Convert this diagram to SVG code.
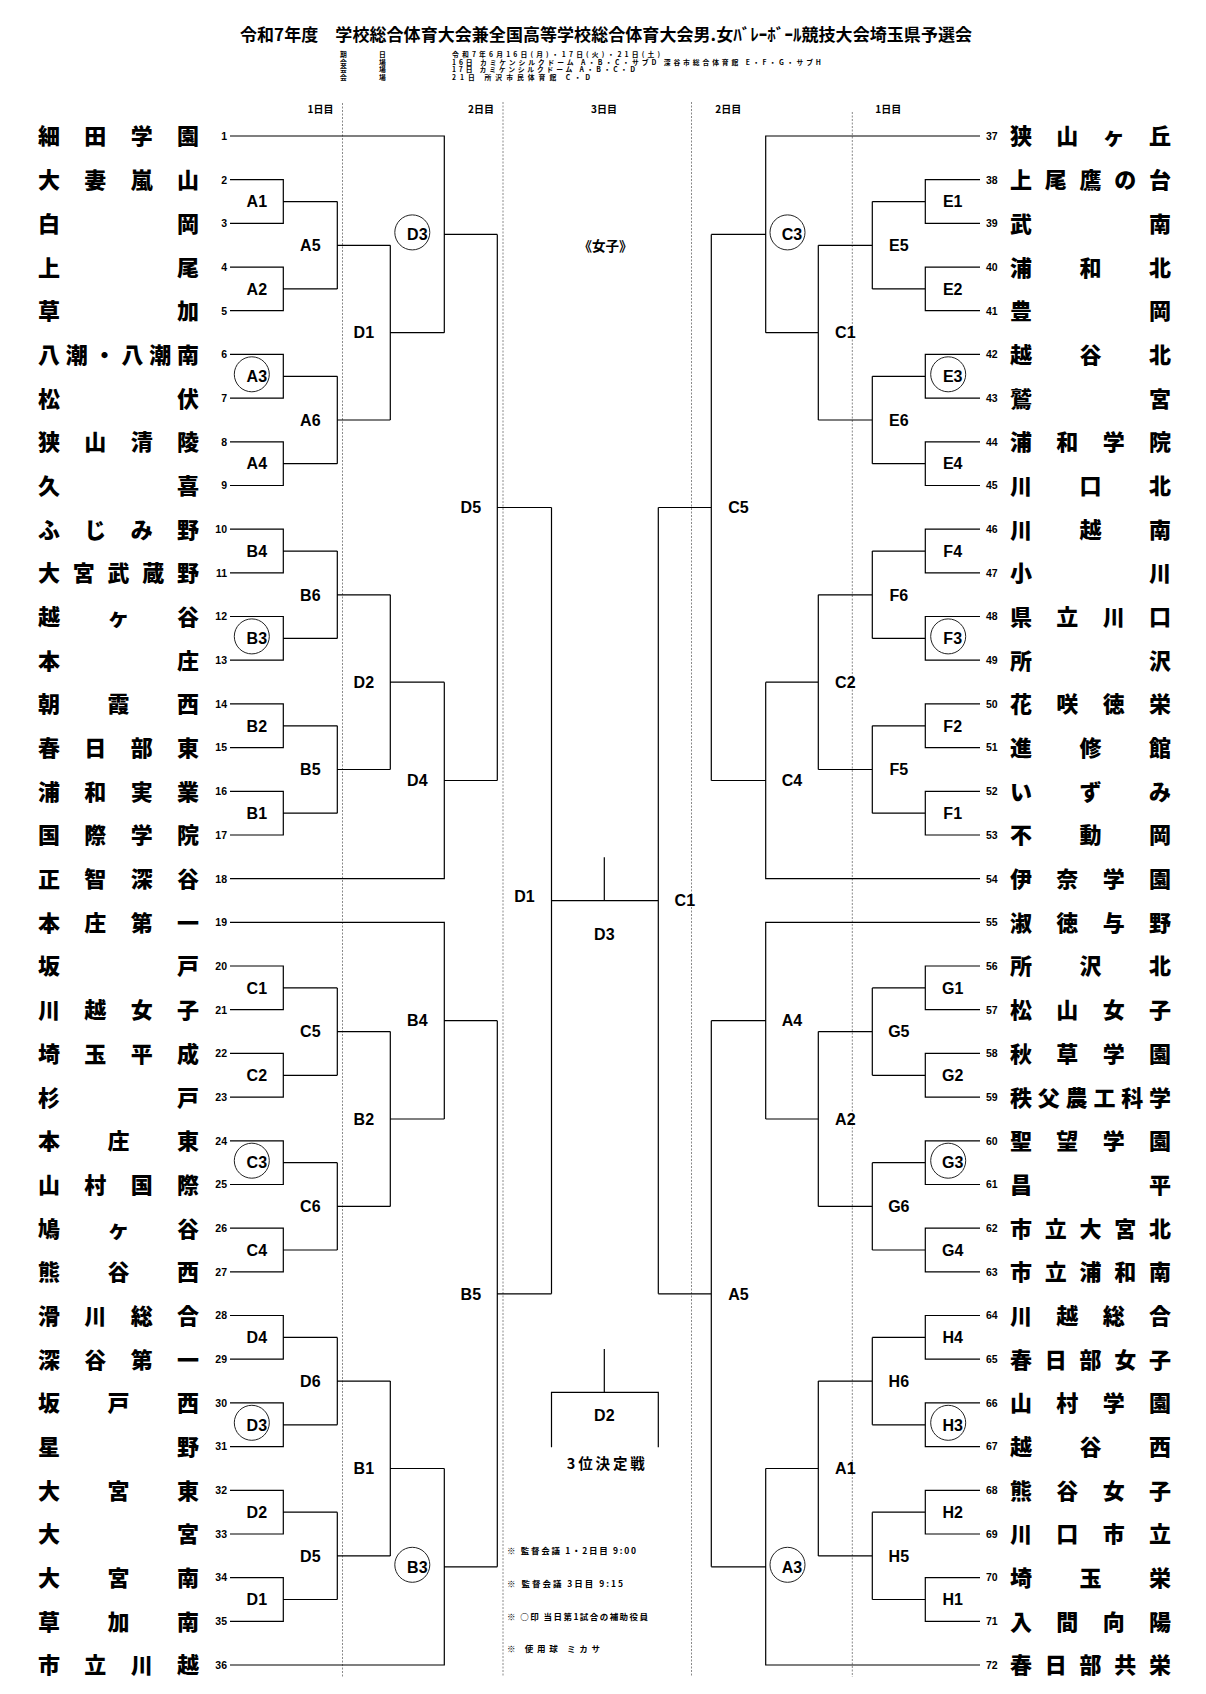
<svg xmlns="http://www.w3.org/2000/svg" width="1206" height="1694" viewBox="0 0 1206 1694">
<style>
.bg{fill:#fff}
.ln{fill:none;stroke:#000;stroke-width:1.2}
.dash{fill:none;stroke:#8a8a8a;stroke-width:1;stroke-dasharray:2 1.5}
.cir{fill:none;stroke:#222;stroke-width:1}
.nm{font-family:"Noto Sans CJK JP","Noto Sans CJK SC",sans-serif;font-size:22px;font-weight:900}
.no{font-family:"Liberation Sans",Arial,sans-serif;font-size:10.5px;font-weight:700}
.nl{text-anchor:end}
.lb{font-family:"Liberation Sans",Arial,sans-serif;font-size:16px;font-weight:700;text-anchor:middle}
.hd{font-family:"Noto Sans CJK JP",sans-serif;font-size:10px;font-weight:700;text-anchor:middle}
.ttl{font-family:"Noto Sans CJK JP",sans-serif;font-size:17px;font-weight:700}
.inf{font-family:"Noto Sans CJK JP",sans-serif;font-size:6.8px;font-weight:700}
.key{font-family:"Noto Sans CJK JP",sans-serif;font-size:6.8px;font-weight:700}
.nt{font-family:"Noto Sans CJK JP",sans-serif;font-size:8.5px;font-weight:700}
.cj{font-family:"Noto Sans CJK JP",sans-serif;font-weight:700;text-anchor:middle}
</style>
<rect class="bg" x="0" y="0" width="1206" height="1694"/>

<g id="header">
<text class="ttl" x="240" y="40.5" textLength="732" lengthAdjust="spacing">令和7年度　学校総合体育大会兼全国高等学校総合体育大会男.女ﾊﾞﾚｰﾎﾞｰﾙ競技大会埼玉県予選会</text>
<text class="key" x="340 379" y="57">期日</text>
<text class="key" x="340 379" y="64.6">会場</text>
<text class="key" x="340 379" y="72.2">会場</text>
<text class="key" x="340 379" y="79.8">会場</text>
<text class="inf" x="452" y="57" textLength="208" lengthAdjust="spacing">令和7年6月16日(月)・17日(火)・21日(土)</text>
<text class="inf" x="452" y="64.6" textLength="369" lengthAdjust="spacing">16日 カミケンシルクドーム A・B・C・サブD 深谷市総合体育館 E・F・G・サブH</text>
<text class="inf" x="452" y="72.2" textLength="183" lengthAdjust="spacing">17日 カミケンシルクドーム A・B・C・D</text>
<text class="inf" x="452" y="79.8" textLength="138" lengthAdjust="spacing">21日 所沢市民体育館 C・D</text>
<text class="hd" x="320.5" y="113.3">1日目</text>
<text class="hd" x="481" y="113.3">2日目</text>
<text class="hd" x="604" y="113.3">3日目</text>
<text class="hd" x="728.3" y="113.3">2日目</text>
<text class="hd" x="888.3" y="113.3">1日目</text>
<text class="cj" x="605.5" y="250.6" style="font-size:13.5px">《女子》</text>
</g>

<g id="day-dividers">
<path class="dash" d="M342.5 103V1677M503 102V1677M691.5 102V1677M852.3 112V1677"/>
</g>

<g id="connectors">
<path class="ln" d="M230 179.7H283.3V223.4H230M283.3 201.6H337.3"/>
<path class="ln" d="M230 267.1H283.3V310.7H230M283.3 288.9H337.3"/>
<path class="ln" d="M230 354.4H283.3V398.1H230M283.3 376.3H337.3"/>
<path class="ln" d="M230 441.8H283.3V485.5H230M283.3 463.7H337.3"/>
<path class="ln" d="M230 529.2H283.3V572.9H230M283.3 551.1H337.3"/>
<path class="ln" d="M230 616.5H283.3V660.2H230M283.3 638.4H337.3"/>
<path class="ln" d="M230 703.9H283.3V747.6H230M283.3 725.8H337.3"/>
<path class="ln" d="M230 791.3H283.3V835H230M283.3 813.2H337.3"/>
<path class="ln" d="M230 966H283.3V1009.7H230M283.3 987.9H337.3"/>
<path class="ln" d="M230 1053.4H283.3V1097.1H230M283.3 1075.3H337.3"/>
<path class="ln" d="M230 1140.8H283.3V1184.5H230M283.3 1162.7H337.3"/>
<path class="ln" d="M230 1228.2H283.3V1271.8H230M283.3 1250H337.3"/>
<path class="ln" d="M230 1315.5H283.3V1359.2H230M283.3 1337.4H337.3"/>
<path class="ln" d="M230 1402.9H283.3V1446.6H230M283.3 1424.8H337.3"/>
<path class="ln" d="M230 1490.3H283.3V1534H230M283.3 1512.2H337.3"/>
<path class="ln" d="M230 1577.6H283.3V1621.3H230M283.3 1599.5H337.3"/>
<path class="ln" d="M337.3 201.6V288.9M337.3 245.3H390.3"/>
<path class="ln" d="M337.3 376.3V463.7M337.3 420H390.3"/>
<path class="ln" d="M337.3 551.1V638.4M337.3 594.8H390.3"/>
<path class="ln" d="M337.3 725.8V813.2M337.3 769.5H390.3"/>
<path class="ln" d="M337.3 987.9V1075.3M337.3 1031.6H390.3"/>
<path class="ln" d="M337.3 1162.7V1250M337.3 1206.4H390.3"/>
<path class="ln" d="M337.3 1337.4V1424.8M337.3 1381.1H390.3"/>
<path class="ln" d="M337.3 1512.2V1599.5M337.3 1555.9H390.3"/>
<path class="ln" d="M390.3 245.3V420M390.3 332.7H444.3"/>
<path class="ln" d="M390.3 594.8V769.5M390.3 682.2H444.3"/>
<path class="ln" d="M390.3 1031.6V1206.4M390.3 1119H444.3"/>
<path class="ln" d="M390.3 1381.1V1555.9M390.3 1468.5H444.3"/>
<path class="ln" d="M230 136H444.3V332.7M444.3 234.4H497.3"/>
<path class="ln" d="M444.3 682.2V878.7H230M444.3 780.5H497.3"/>
<path class="ln" d="M230 922.3H444.3V1119M444.3 1020.7H497.3"/>
<path class="ln" d="M444.3 1468.5V1665H230M444.3 1566.8H497.3"/>
<path class="ln" d="M497.3 234.4V780.5M497.3 507.5H551.5"/>
<path class="ln" d="M497.3 1020.7V1566.8M497.3 1293.8H551.5"/>

<path class="ln" d="M980 179.7H925.3V223.4H980M925.3 201.6H872.3"/>
<path class="ln" d="M980 267.1H925.3V310.7H980M925.3 288.9H872.3"/>
<path class="ln" d="M980 354.4H925.3V398.1H980M925.3 376.3H872.3"/>
<path class="ln" d="M980 441.8H925.3V485.5H980M925.3 463.7H872.3"/>
<path class="ln" d="M980 529.2H925.3V572.9H980M925.3 551.1H872.3"/>
<path class="ln" d="M980 616.5H925.3V660.2H980M925.3 638.4H872.3"/>
<path class="ln" d="M980 703.9H925.3V747.6H980M925.3 725.8H872.3"/>
<path class="ln" d="M980 791.3H925.3V835H980M925.3 813.2H872.3"/>
<path class="ln" d="M980 966H925.3V1009.7H980M925.3 987.9H872.3"/>
<path class="ln" d="M980 1053.4H925.3V1097.1H980M925.3 1075.3H872.3"/>
<path class="ln" d="M980 1140.8H925.3V1184.5H980M925.3 1162.7H872.3"/>
<path class="ln" d="M980 1228.2H925.3V1271.8H980M925.3 1250H872.3"/>
<path class="ln" d="M980 1315.5H925.3V1359.2H980M925.3 1337.4H872.3"/>
<path class="ln" d="M980 1402.9H925.3V1446.6H980M925.3 1424.8H872.3"/>
<path class="ln" d="M980 1490.3H925.3V1534H980M925.3 1512.2H872.3"/>
<path class="ln" d="M980 1577.6H925.3V1621.3H980M925.3 1599.5H872.3"/>
<path class="ln" d="M872.3 201.6V288.9M872.3 245.3H818.3"/>
<path class="ln" d="M872.3 376.3V463.7M872.3 420H818.3"/>
<path class="ln" d="M872.3 551.1V638.4M872.3 594.8H818.3"/>
<path class="ln" d="M872.3 725.8V813.2M872.3 769.5H818.3"/>
<path class="ln" d="M872.3 987.9V1075.3M872.3 1031.6H818.3"/>
<path class="ln" d="M872.3 1162.7V1250M872.3 1206.4H818.3"/>
<path class="ln" d="M872.3 1337.4V1424.8M872.3 1381.1H818.3"/>
<path class="ln" d="M872.3 1512.2V1599.5M872.3 1555.9H818.3"/>
<path class="ln" d="M818.3 245.3V420M818.3 332.7H765.7"/>
<path class="ln" d="M818.3 594.8V769.5M818.3 682.2H765.7"/>
<path class="ln" d="M818.3 1031.6V1206.4M818.3 1119H765.7"/>
<path class="ln" d="M818.3 1381.1V1555.9M818.3 1468.5H765.7"/>
<path class="ln" d="M980 136H765.7V332.7M765.7 234.4H711.3"/>
<path class="ln" d="M765.7 682.2V878.7H980M765.7 780.5H711.3"/>
<path class="ln" d="M980 922.3H765.7V1119M765.7 1020.7H711.3"/>
<path class="ln" d="M765.7 1468.5V1665H980M765.7 1566.8H711.3"/>
<path class="ln" d="M711.3 234.4V780.5M711.3 507.5H658.3"/>
<path class="ln" d="M711.3 1020.7V1566.8M711.3 1293.8H658.3"/>

<path class="ln" d="M551.5 507.5V1293.8M658.3 507.5V1293.8M551.5 900.7H658.3M604.3 857.3V900.7"/>
<path class="ln" d="M551.5 1447.3V1392.3H658.3V1447.3M604.3 1349V1392.3"/>
</g>

<g id="teams-left">
<g id="team1" transform="translate(0,136)"><text class="no nl" x="227" y="3.8">1</text><text class="nm" x="38 84.3 130.7 177" y="8.4">細田学園</text></g>
<g id="team2" transform="translate(0,179.7)"><text class="no nl" x="227" y="3.8">2</text><text class="nm" x="38 84.3 130.7 177" y="8.4">大妻嵐山</text></g>
<g id="team3" transform="translate(0,223.4)"><text class="no nl" x="227" y="3.8">3</text><text class="nm" x="38 177" y="8.4">白岡</text></g>
<g id="team4" transform="translate(0,267.1)"><text class="no nl" x="227" y="3.8">4</text><text class="nm" x="38 177" y="8.4">上尾</text></g>
<g id="team5" transform="translate(0,310.7)"><text class="no nl" x="227" y="3.8">5</text><text class="nm" x="38 177" y="8.4">草加</text></g>
<g id="team6" transform="translate(0,354.4)"><text class="no nl" x="227" y="3.8">6</text><text class="nm" x="38 65.8 93.6 121.4 149.2 177" y="8.4">八潮・八潮南</text></g>
<g id="team7" transform="translate(0,398.1)"><text class="no nl" x="227" y="3.8">7</text><text class="nm" x="38 177" y="8.4">松伏</text></g>
<g id="team8" transform="translate(0,441.8)"><text class="no nl" x="227" y="3.8">8</text><text class="nm" x="38 84.3 130.7 177" y="8.4">狭山清陵</text></g>
<g id="team9" transform="translate(0,485.5)"><text class="no nl" x="227" y="3.8">9</text><text class="nm" x="38 177" y="8.4">久喜</text></g>
<g id="team10" transform="translate(0,529.2)"><text class="no nl" x="227" y="3.8">10</text><text class="nm" x="38 84.3 130.7 177" y="8.4">ふじみ野</text></g>
<g id="team11" transform="translate(0,572.9)"><text class="no nl" x="227" y="3.8">11</text><text class="nm" x="38 72.8 107.5 142.3 177" y="8.4">大宮武蔵野</text></g>
<g id="team12" transform="translate(0,616.5)"><text class="no nl" x="227" y="3.8">12</text><text class="nm" x="38 107.5 177" y="8.4">越ヶ谷</text></g>
<g id="team13" transform="translate(0,660.2)"><text class="no nl" x="227" y="3.8">13</text><text class="nm" x="38 177" y="8.4">本庄</text></g>
<g id="team14" transform="translate(0,703.9)"><text class="no nl" x="227" y="3.8">14</text><text class="nm" x="38 107.5 177" y="8.4">朝霞西</text></g>
<g id="team15" transform="translate(0,747.6)"><text class="no nl" x="227" y="3.8">15</text><text class="nm" x="38 84.3 130.7 177" y="8.4">春日部東</text></g>
<g id="team16" transform="translate(0,791.3)"><text class="no nl" x="227" y="3.8">16</text><text class="nm" x="38 84.3 130.7 177" y="8.4">浦和実業</text></g>
<g id="team17" transform="translate(0,835)"><text class="no nl" x="227" y="3.8">17</text><text class="nm" x="38 84.3 130.7 177" y="8.4">国際学院</text></g>
<g id="team18" transform="translate(0,878.7)"><text class="no nl" x="227" y="3.8">18</text><text class="nm" x="38 84.3 130.7 177" y="8.4">正智深谷</text></g>
<g id="team19" transform="translate(0,922.3)"><text class="no nl" x="227" y="3.8">19</text><text class="nm" x="38 84.3 130.7 177" y="8.4">本庄第一</text></g>
<g id="team20" transform="translate(0,966)"><text class="no nl" x="227" y="3.8">20</text><text class="nm" x="38 177" y="8.4">坂戸</text></g>
<g id="team21" transform="translate(0,1009.7)"><text class="no nl" x="227" y="3.8">21</text><text class="nm" x="38 84.3 130.7 177" y="8.4">川越女子</text></g>
<g id="team22" transform="translate(0,1053.4)"><text class="no nl" x="227" y="3.8">22</text><text class="nm" x="38 84.3 130.7 177" y="8.4">埼玉平成</text></g>
<g id="team23" transform="translate(0,1097.1)"><text class="no nl" x="227" y="3.8">23</text><text class="nm" x="38 177" y="8.4">杉戸</text></g>
<g id="team24" transform="translate(0,1140.8)"><text class="no nl" x="227" y="3.8">24</text><text class="nm" x="38 107.5 177" y="8.4">本庄東</text></g>
<g id="team25" transform="translate(0,1184.5)"><text class="no nl" x="227" y="3.8">25</text><text class="nm" x="38 84.3 130.7 177" y="8.4">山村国際</text></g>
<g id="team26" transform="translate(0,1228.2)"><text class="no nl" x="227" y="3.8">26</text><text class="nm" x="38 107.5 177" y="8.4">鳩ヶ谷</text></g>
<g id="team27" transform="translate(0,1271.8)"><text class="no nl" x="227" y="3.8">27</text><text class="nm" x="38 107.5 177" y="8.4">熊谷西</text></g>
<g id="team28" transform="translate(0,1315.5)"><text class="no nl" x="227" y="3.8">28</text><text class="nm" x="38 84.3 130.7 177" y="8.4">滑川総合</text></g>
<g id="team29" transform="translate(0,1359.2)"><text class="no nl" x="227" y="3.8">29</text><text class="nm" x="38 84.3 130.7 177" y="8.4">深谷第一</text></g>
<g id="team30" transform="translate(0,1402.9)"><text class="no nl" x="227" y="3.8">30</text><text class="nm" x="38 107.5 177" y="8.4">坂戸西</text></g>
<g id="team31" transform="translate(0,1446.6)"><text class="no nl" x="227" y="3.8">31</text><text class="nm" x="38 177" y="8.4">星野</text></g>
<g id="team32" transform="translate(0,1490.3)"><text class="no nl" x="227" y="3.8">32</text><text class="nm" x="38 107.5 177" y="8.4">大宮東</text></g>
<g id="team33" transform="translate(0,1534)"><text class="no nl" x="227" y="3.8">33</text><text class="nm" x="38 177" y="8.4">大宮</text></g>
<g id="team34" transform="translate(0,1577.6)"><text class="no nl" x="227" y="3.8">34</text><text class="nm" x="38 107.5 177" y="8.4">大宮南</text></g>
<g id="team35" transform="translate(0,1621.3)"><text class="no nl" x="227" y="3.8">35</text><text class="nm" x="38 107.5 177" y="8.4">草加南</text></g>
<g id="team36" transform="translate(0,1665)"><text class="no nl" x="227" y="3.8">36</text><text class="nm" x="38 84.3 130.7 177" y="8.4">市立川越</text></g>
</g>

<g id="teams-right">
<g id="team37" transform="translate(0,136)"><text class="no" x="986" y="3.8">37</text><text class="nm" x="1010 1056.3 1102.7 1149" y="8.4">狭山ヶ丘</text></g>
<g id="team38" transform="translate(0,179.7)"><text class="no" x="986" y="3.8">38</text><text class="nm" x="1010 1044.8 1079.5 1114.3 1149" y="8.4">上尾鷹の台</text></g>
<g id="team39" transform="translate(0,223.4)"><text class="no" x="986" y="3.8">39</text><text class="nm" x="1010 1149" y="8.4">武南</text></g>
<g id="team40" transform="translate(0,267.1)"><text class="no" x="986" y="3.8">40</text><text class="nm" x="1010 1079.5 1149" y="8.4">浦和北</text></g>
<g id="team41" transform="translate(0,310.7)"><text class="no" x="986" y="3.8">41</text><text class="nm" x="1010 1149" y="8.4">豊岡</text></g>
<g id="team42" transform="translate(0,354.4)"><text class="no" x="986" y="3.8">42</text><text class="nm" x="1010 1079.5 1149" y="8.4">越谷北</text></g>
<g id="team43" transform="translate(0,398.1)"><text class="no" x="986" y="3.8">43</text><text class="nm" x="1010 1149" y="8.4">鷲宮</text></g>
<g id="team44" transform="translate(0,441.8)"><text class="no" x="986" y="3.8">44</text><text class="nm" x="1010 1056.3 1102.7 1149" y="8.4">浦和学院</text></g>
<g id="team45" transform="translate(0,485.5)"><text class="no" x="986" y="3.8">45</text><text class="nm" x="1010 1079.5 1149" y="8.4">川口北</text></g>
<g id="team46" transform="translate(0,529.2)"><text class="no" x="986" y="3.8">46</text><text class="nm" x="1010 1079.5 1149" y="8.4">川越南</text></g>
<g id="team47" transform="translate(0,572.9)"><text class="no" x="986" y="3.8">47</text><text class="nm" x="1010 1149" y="8.4">小川</text></g>
<g id="team48" transform="translate(0,616.5)"><text class="no" x="986" y="3.8">48</text><text class="nm" x="1010 1056.3 1102.7 1149" y="8.4">県立川口</text></g>
<g id="team49" transform="translate(0,660.2)"><text class="no" x="986" y="3.8">49</text><text class="nm" x="1010 1149" y="8.4">所沢</text></g>
<g id="team50" transform="translate(0,703.9)"><text class="no" x="986" y="3.8">50</text><text class="nm" x="1010 1056.3 1102.7 1149" y="8.4">花咲徳栄</text></g>
<g id="team51" transform="translate(0,747.6)"><text class="no" x="986" y="3.8">51</text><text class="nm" x="1010 1079.5 1149" y="8.4">進修館</text></g>
<g id="team52" transform="translate(0,791.3)"><text class="no" x="986" y="3.8">52</text><text class="nm" x="1010 1079.5 1149" y="8.4">いずみ</text></g>
<g id="team53" transform="translate(0,835)"><text class="no" x="986" y="3.8">53</text><text class="nm" x="1010 1079.5 1149" y="8.4">不動岡</text></g>
<g id="team54" transform="translate(0,878.7)"><text class="no" x="986" y="3.8">54</text><text class="nm" x="1010 1056.3 1102.7 1149" y="8.4">伊奈学園</text></g>
<g id="team55" transform="translate(0,922.3)"><text class="no" x="986" y="3.8">55</text><text class="nm" x="1010 1056.3 1102.7 1149" y="8.4">淑徳与野</text></g>
<g id="team56" transform="translate(0,966)"><text class="no" x="986" y="3.8">56</text><text class="nm" x="1010 1079.5 1149" y="8.4">所沢北</text></g>
<g id="team57" transform="translate(0,1009.7)"><text class="no" x="986" y="3.8">57</text><text class="nm" x="1010 1056.3 1102.7 1149" y="8.4">松山女子</text></g>
<g id="team58" transform="translate(0,1053.4)"><text class="no" x="986" y="3.8">58</text><text class="nm" x="1010 1056.3 1102.7 1149" y="8.4">秋草学園</text></g>
<g id="team59" transform="translate(0,1097.1)"><text class="no" x="986" y="3.8">59</text><text class="nm" x="1010 1037.8 1065.6 1093.4 1121.2 1149" y="8.4">秩父農工科学</text></g>
<g id="team60" transform="translate(0,1140.8)"><text class="no" x="986" y="3.8">60</text><text class="nm" x="1010 1056.3 1102.7 1149" y="8.4">聖望学園</text></g>
<g id="team61" transform="translate(0,1184.5)"><text class="no" x="986" y="3.8">61</text><text class="nm" x="1010 1149" y="8.4">昌平</text></g>
<g id="team62" transform="translate(0,1228.2)"><text class="no" x="986" y="3.8">62</text><text class="nm" x="1010 1044.8 1079.5 1114.3 1149" y="8.4">市立大宮北</text></g>
<g id="team63" transform="translate(0,1271.8)"><text class="no" x="986" y="3.8">63</text><text class="nm" x="1010 1044.8 1079.5 1114.3 1149" y="8.4">市立浦和南</text></g>
<g id="team64" transform="translate(0,1315.5)"><text class="no" x="986" y="3.8">64</text><text class="nm" x="1010 1056.3 1102.7 1149" y="8.4">川越総合</text></g>
<g id="team65" transform="translate(0,1359.2)"><text class="no" x="986" y="3.8">65</text><text class="nm" x="1010 1044.8 1079.5 1114.3 1149" y="8.4">春日部女子</text></g>
<g id="team66" transform="translate(0,1402.9)"><text class="no" x="986" y="3.8">66</text><text class="nm" x="1010 1056.3 1102.7 1149" y="8.4">山村学園</text></g>
<g id="team67" transform="translate(0,1446.6)"><text class="no" x="986" y="3.8">67</text><text class="nm" x="1010 1079.5 1149" y="8.4">越谷西</text></g>
<g id="team68" transform="translate(0,1490.3)"><text class="no" x="986" y="3.8">68</text><text class="nm" x="1010 1056.3 1102.7 1149" y="8.4">熊谷女子</text></g>
<g id="team69" transform="translate(0,1534)"><text class="no" x="986" y="3.8">69</text><text class="nm" x="1010 1056.3 1102.7 1149" y="8.4">川口市立</text></g>
<g id="team70" transform="translate(0,1577.6)"><text class="no" x="986" y="3.8">70</text><text class="nm" x="1010 1079.5 1149" y="8.4">埼玉栄</text></g>
<g id="team71" transform="translate(0,1621.3)"><text class="no" x="986" y="3.8">71</text><text class="nm" x="1010 1056.3 1102.7 1149" y="8.4">入間向陽</text></g>
<g id="team72" transform="translate(0,1665)"><text class="no" x="986" y="3.8">72</text><text class="nm" x="1010 1044.8 1079.5 1114.3 1149" y="8.4">春日部共栄</text></g>
</g>

<g id="matches-left">
<g id="mL-A1" transform="translate(256.8,201.6)"><text class="lb" y="5.7">A1</text></g>
<g id="mL-A2" transform="translate(256.8,288.9)"><text class="lb" y="5.7">A2</text></g>
<g id="mL-A3" transform="translate(256.8,376.3)"><circle class="cir" cx="-5" cy="-2" r="17.5"/><text class="lb" y="5.7">A3</text></g>
<g id="mL-A4" transform="translate(256.8,463.7)"><text class="lb" y="5.7">A4</text></g>
<g id="mL-B4a" transform="translate(256.8,551.1)"><text class="lb" y="5.7">B4</text></g>
<g id="mL-B3a" transform="translate(256.8,638.4)"><circle class="cir" cx="-5" cy="-2" r="17.5"/><text class="lb" y="5.7">B3</text></g>
<g id="mL-B2a" transform="translate(256.8,725.8)"><text class="lb" y="5.7">B2</text></g>
<g id="mL-B1a" transform="translate(256.8,813.2)"><text class="lb" y="5.7">B1</text></g>
<g id="mL-C1" transform="translate(256.8,987.9)"><text class="lb" y="5.7">C1</text></g>
<g id="mL-C2" transform="translate(256.8,1075.3)"><text class="lb" y="5.7">C2</text></g>
<g id="mL-C3" transform="translate(256.8,1162.7)"><circle class="cir" cx="-5" cy="-2" r="17.5"/><text class="lb" y="5.7">C3</text></g>
<g id="mL-C4" transform="translate(256.8,1250)"><text class="lb" y="5.7">C4</text></g>
<g id="mL-D4a" transform="translate(256.8,1337.4)"><text class="lb" y="5.7">D4</text></g>
<g id="mL-D3a" transform="translate(256.8,1424.8)"><circle class="cir" cx="-5" cy="-2" r="17.5"/><text class="lb" y="5.7">D3</text></g>
<g id="mL-D2a" transform="translate(256.8,1512.2)"><text class="lb" y="5.7">D2</text></g>
<g id="mL-D1a" transform="translate(256.8,1599.5)"><text class="lb" y="5.7">D1</text></g>
<g id="mL-A5" transform="translate(310.3,245.3)"><text class="lb" y="5.7">A5</text></g>
<g id="mL-A6" transform="translate(310.3,420)"><text class="lb" y="5.7">A6</text></g>
<g id="mL-B6" transform="translate(310.3,594.8)"><text class="lb" y="5.7">B6</text></g>
<g id="mL-B5a" transform="translate(310.3,769.5)"><text class="lb" y="5.7">B5</text></g>
<g id="mL-C5" transform="translate(310.3,1031.6)"><text class="lb" y="5.7">C5</text></g>
<g id="mL-C6" transform="translate(310.3,1206.4)"><text class="lb" y="5.7">C6</text></g>
<g id="mL-D6" transform="translate(310.3,1381.1)"><text class="lb" y="5.7">D6</text></g>
<g id="mL-D5a" transform="translate(310.3,1555.9)"><text class="lb" y="5.7">D5</text></g>
<g id="mL-D1b" transform="translate(363.8,332.7)"><text class="lb" y="5.7">D1</text></g>
<g id="mL-D2b" transform="translate(363.8,682.2)"><text class="lb" y="5.7">D2</text></g>
<g id="mL-B2b" transform="translate(363.8,1119)"><text class="lb" y="5.7">B2</text></g>
<g id="mL-B1b" transform="translate(363.8,1468.5)"><text class="lb" y="5.7">B1</text></g>
<g id="mL-D3b" transform="translate(417.3,234.4)"><circle class="cir" cx="-5" cy="-2" r="17.5"/><text class="lb" y="5.7">D3</text></g>
<g id="mL-D4b" transform="translate(417.3,780.5)"><text class="lb" y="5.7">D4</text></g>
<g id="mL-B4b" transform="translate(417.3,1020.7)"><text class="lb" y="5.7">B4</text></g>
<g id="mL-B3b" transform="translate(417.3,1566.8)"><circle class="cir" cx="-5" cy="-2" r="17.5"/><text class="lb" y="5.7">B3</text></g>
<g id="mL-D5b" transform="translate(470.8,507.5)"><text class="lb" y="5.7">D5</text></g>
<g id="mL-B5b" transform="translate(470.8,1293.8)"><text class="lb" y="5.7">B5</text></g>
</g>

<g id="matches-right">
<g id="mR-E1" transform="translate(952.7,201.6)"><text class="lb" y="5.7">E1</text></g>
<g id="mR-E2" transform="translate(952.7,288.9)"><text class="lb" y="5.7">E2</text></g>
<g id="mR-E3" transform="translate(952.7,376.3)"><circle class="cir" cx="-4.5" cy="-2" r="17.5"/><text class="lb" y="5.7">E3</text></g>
<g id="mR-E4" transform="translate(952.7,463.7)"><text class="lb" y="5.7">E4</text></g>
<g id="mR-F4" transform="translate(952.7,551.1)"><text class="lb" y="5.7">F4</text></g>
<g id="mR-F3" transform="translate(952.7,638.4)"><circle class="cir" cx="-4.5" cy="-2" r="17.5"/><text class="lb" y="5.7">F3</text></g>
<g id="mR-F2" transform="translate(952.7,725.8)"><text class="lb" y="5.7">F2</text></g>
<g id="mR-F1" transform="translate(952.7,813.2)"><text class="lb" y="5.7">F1</text></g>
<g id="mR-G1" transform="translate(952.7,987.9)"><text class="lb" y="5.7">G1</text></g>
<g id="mR-G2" transform="translate(952.7,1075.3)"><text class="lb" y="5.7">G2</text></g>
<g id="mR-G3" transform="translate(952.7,1162.7)"><circle class="cir" cx="-4.5" cy="-2" r="17.5"/><text class="lb" y="5.7">G3</text></g>
<g id="mR-G4" transform="translate(952.7,1250)"><text class="lb" y="5.7">G4</text></g>
<g id="mR-H4" transform="translate(952.7,1337.4)"><text class="lb" y="5.7">H4</text></g>
<g id="mR-H3" transform="translate(952.7,1424.8)"><circle class="cir" cx="-4.5" cy="-2" r="17.5"/><text class="lb" y="5.7">H3</text></g>
<g id="mR-H2" transform="translate(952.7,1512.2)"><text class="lb" y="5.7">H2</text></g>
<g id="mR-H1" transform="translate(952.7,1599.5)"><text class="lb" y="5.7">H1</text></g>
<g id="mR-E5" transform="translate(898.8,245.3)"><text class="lb" y="5.7">E5</text></g>
<g id="mR-E6" transform="translate(898.8,420)"><text class="lb" y="5.7">E6</text></g>
<g id="mR-F6" transform="translate(898.8,594.8)"><text class="lb" y="5.7">F6</text></g>
<g id="mR-F5" transform="translate(898.8,769.5)"><text class="lb" y="5.7">F5</text></g>
<g id="mR-G5" transform="translate(898.8,1031.6)"><text class="lb" y="5.7">G5</text></g>
<g id="mR-G6" transform="translate(898.8,1206.4)"><text class="lb" y="5.7">G6</text></g>
<g id="mR-H6" transform="translate(898.8,1381.1)"><text class="lb" y="5.7">H6</text></g>
<g id="mR-H5" transform="translate(898.8,1555.9)"><text class="lb" y="5.7">H5</text></g>
<g id="mR-C1" transform="translate(845.3,332.7)"><text class="lb" y="5.7">C1</text></g>
<g id="mR-C2" transform="translate(845.3,682.2)"><text class="lb" y="5.7">C2</text></g>
<g id="mR-A2" transform="translate(845.3,1119)"><text class="lb" y="5.7">A2</text></g>
<g id="mR-A1" transform="translate(845.3,1468.5)"><text class="lb" y="5.7">A1</text></g>
<g id="mR-C3" transform="translate(792,234.4)"><circle class="cir" cx="-4.5" cy="-2" r="17.5"/><text class="lb" y="5.7">C3</text></g>
<g id="mR-C4" transform="translate(792,780.5)"><text class="lb" y="5.7">C4</text></g>
<g id="mR-A4" transform="translate(792,1020.7)"><text class="lb" y="5.7">A4</text></g>
<g id="mR-A3" transform="translate(792,1566.8)"><circle class="cir" cx="-4.5" cy="-2" r="17.5"/><text class="lb" y="5.7">A3</text></g>
<g id="mR-C5" transform="translate(738.5,507.5)"><text class="lb" y="5.7">C5</text></g>
<g id="mR-A5" transform="translate(738.5,1293.8)"><text class="lb" y="5.7">A5</text></g>
</g>

<g id="matches-center">
<g id="mC-D1" transform="translate(524.4,896)"><text class="lb" y="5.7">D1</text></g>
<g id="mC-C1" transform="translate(684.8,900.7)"><text class="lb" y="5.7">C1</text></g>
<g id="mC-D3" transform="translate(604.3,934)"><text class="lb" y="5.7">D3</text></g>
<g id="mC-D2" transform="translate(604.3,1415)"><text class="lb" y="5.7">D2</text></g>
<text class="cj" x="605.8" y="1469.3" style="font-size:14.5px" textLength="78" lengthAdjust="spacing">3位決定戦</text>
</g>

<g id="notes">
<text class="nt" x="507" y="1554.3" textLength="129" lengthAdjust="spacing">※ 監督会議 1・2日目 9:00</text>
<text class="nt" x="507" y="1586.6" textLength="116" lengthAdjust="spacing">※ 監督会議 3日目 9:15</text>
<text class="nt" x="507" y="1620" textLength="141" lengthAdjust="spacing">※ ○印 当日第1試合の補助役員</text>
<text class="nt" x="507" y="1651.6" textLength="93" lengthAdjust="spacing">※ 使用球 ミカサ</text>
</g>
</svg>
